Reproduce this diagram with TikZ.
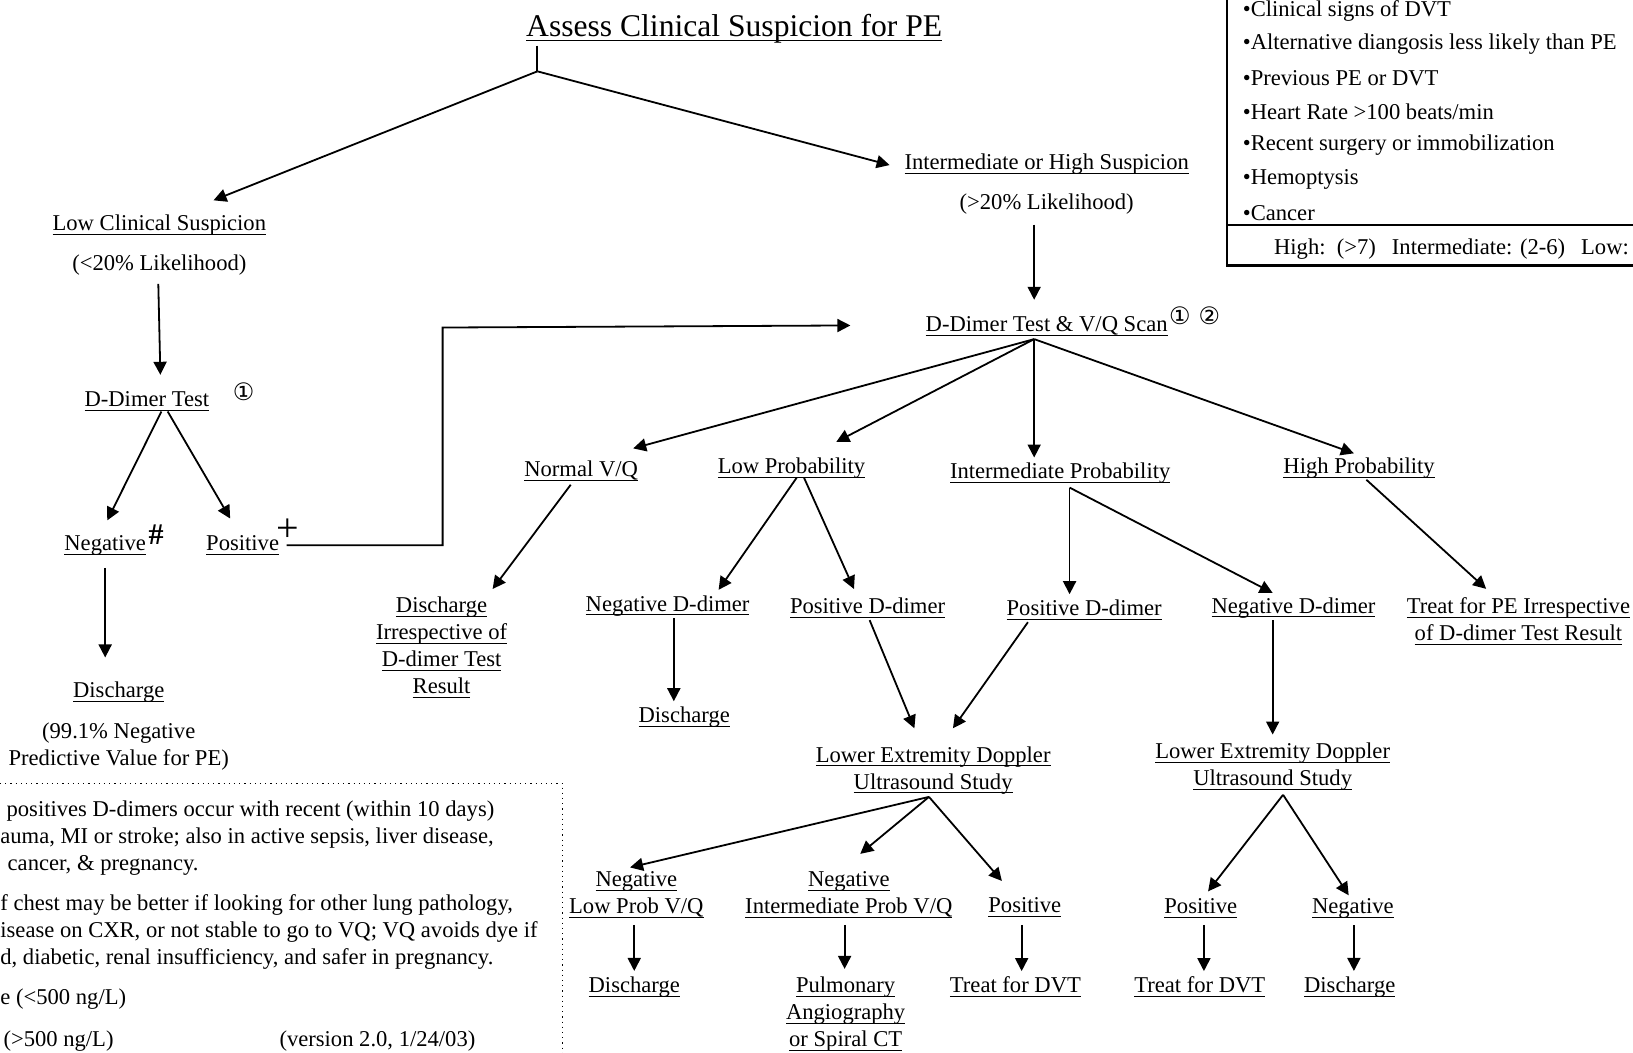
\documentclass[tikz,border=0pt]{standalone}
\usepackage{fontspec}
\setmainfont{Liberation Serif}
\newfontfamily\circfont{DejaVu Sans}
\usetikzlibrary{arrows.meta}

% underline at a fixed depth
\newcommand\ulin[1]{\setbox0\hbox{#1}\rlap{\rule[-2.2pt]{\wd0}{0.5pt}}\box0}

\begin{document}
\begin{tikzpicture}[x=0.52075pt, y=-0.52075pt,
        every node/.style={font=\fontsize{11.3}{13.54}\selectfont, inner sep=1pt, align=center, yshift=-1.3pt},
        flow/.style={line width=0.9pt, -{Triangle[length=6.5pt, width=6.5pt]}},
        plain/.style={line width=0.9pt},
        note/.style={anchor=west, inner sep=0pt}]
        \useasboundingbox (0,0) rectangle (1568,1011);
        \clip (0,0) rectangle (1568,1011);

        % title and first split
        \node (title) at (705,25) {\fontsize{15.8}{18}\selectfont\ulin{Assess Clinical Suspicion for PE}};
        \coordinate (split) at (516,66);

        % low suspicion branch
        \node (low) at (153,214) {\ulin{Low Clinical Suspicion}};
        \node (lowlik) at (153,252) {(<20\% Likelihood)};
        \node (ddt) at (141,383) {\ulin{D-Dimer Test}};
        \node (ddtmark) at (234,374) {\fontsize{12}{12}\selectfont\circfont ①};
        \node (neg) at (101,521) {\ulin{Negative}};
        \node (hash) at (150,511) {\fontsize{15}{15}\selectfont\bfseries\#};
        \node (pos) at (233,521) {\ulin{Positive}};
        \node (plus) at (276,507) {\fontsize{20}{20}\selectfont +};
        \node (dis1) at (114,662) {\ulin{Discharge}};
        \node (npv) at (114,714) {(99.1\% Negative\\Predictive Value for PE)};

        % intermediate / high suspicion branch
        \node (ihs) at (1005,155) {\ulin{Intermediate or High Suspicion}};
        \node (ihslik) at (1005,193) {(>20\% Likelihood)};
        \node (dvq) at (1005,311) {\ulin{D-Dimer Test \& V/Q Scan}};
        \node (dvqmark) at (1147,301) {\fontsize{12}{12}\selectfont\circfont ①\hspace{4pt}②};

        \node (nvq) at (558,450) {\ulin{Normal V/Q}};
        \node (lowp) at (760,447) {\ulin{Low Probability}};
        \node (intp) at (1018,452) {\ulin{Intermediate Probability}};
        \node (highp) at (1305,447) {\ulin{High Probability}};

        \node (disirr) at (424,619) {\ulin{Discharge}\\\ulin{Irrespective of}\\\ulin{D-dimer Test}\\\ulin{Result}};
        \node (nd1) at (641,579) {\ulin{Negative D-dimer}};
        \node (pd1) at (833,581) {\ulin{Positive D-dimer}};
        \node (pd2) at (1041,583) {\ulin{Positive D-dimer}};
        \node (nd2) at (1242,581) {\ulin{Negative D-dimer}};
        \node (treatpe) at (1458,594) {\ulin{Treat for PE Irrespective}\\\ulin{of D-dimer Test Result}};
        \node (dis2) at (657,686) {\ulin{Discharge}};

        \node (ledus1) at (896,737) {\ulin{Lower Extremity Doppler}\\\ulin{Ultrasound Study}};
        \node (ledus2) at (1222,734) {\ulin{Lower Extremity Doppler}\\\ulin{Ultrasound Study}};
        \node (nlp) at (611,857) {\ulin{Negative}\\\ulin{Low Prob V/Q}};
        \node (nip) at (815,857) {\ulin{Negative}\\\ulin{Intermediate Prob V/Q}};
        \node (posl) at (984,869) {\ulin{Positive}};
        \node (pos2) at (1153,870) {\ulin{Positive}};
        \node (neg2) at (1299,870) {\ulin{Negative}};
        \node (dis3) at (609,945) {\ulin{Discharge}};
        \node (pulm) at (812,971) {\ulin{Pulmonary}\\\ulin{Angiography}\\\ulin{or Spiral CT}};
        \node (tdvt1) at (975,945) {\ulin{Treat for DVT}};
        \node (tdvt2) at (1152,945) {\ulin{Treat for DVT}};
        \node (dis4) at (1296,945) {\ulin{Discharge}};

        % arrows, top part
        \draw[plain] (title.south west -| split) -- (split);
        \draw[flow] (split) -- ([shift={(52,-12)}]low.north);
        \draw[flow] (split) -- ([shift={(-12,1)}]ihs.west);
        \draw[flow] ([shift={(-1,6)}]lowlik.south) -- ([shift={(13,-14)}]ddt.north);
        \draw[flow] ([shift={(14,-2)}]ddt.south) -- ([shift={(2,-12)}]neg.north);
        \draw[flow] ([shift={(20,-2)}]ddt.south) -- ([shift={(-12,-14)}]pos.north);
        \draw[flow] ([shift={(0,10)}]neg.south) -- ([shift={(-13,-21)}]dis1.north);

        % positive D-dimer goes on to the V/Q scan
        \coordinate (jog) at (425,312);
        \draw[flow] ([shift={(5,0)}]pos.east) -| (jog) -- ([shift={(-70,-1)}]dvq.west);
        \draw[flow] ([shift={(-12,8)}]ihslik.south) -- ([shift={(-12,-14)}]dvq.north);

        % V/Q scan results
        \coordinate (dvqhub) at ([shift={(-12,-2)}]dvq.south);
        \draw[flow] (dvqhub) -- ([shift={(50,-10)}]nvq.north);
        \draw[flow] (dvqhub) -- ([shift={(43,-13)}]lowp.north);
        \draw[flow] (dvqhub) -- ([shift={(-25,-3)}]intp.north);
        \draw[flow] (dvqhub) -- ([shift={(-5,-2)}]highp.north);

        \draw[flow] ([shift={(-10,1)}]nvq.south) -- ([shift={(49,-5)}]disirr.north);
        \draw[flow] ([shift={(5,-3)}]lowp.south) -- ([shift={(49,-3)}]nd1.north);
        \draw[flow] ([shift={(12,-3)}]lowp.south) -- ([shift={(-13,-6)}]pd1.north);
        \draw[flow] ([shift={(6,0)}]nd1.south) -- ([shift={(-10,-3)}]dis2.north);
        \coordinate (inthub) at ([shift={(9,-1)}]intp.south);
        \draw[flow] (inthub) -- ([shift={(-14,-3)}]pd2.north);
        \draw[flow] (inthub) -- ([shift={(-20,-2)}]nd2.north);
        \draw[flow] ([shift={(7,-1)}]highp.south) -- ([shift={(-31,-6)}]treatpe.north);

        % doppler studies
        \draw[flow] ([shift={(2,0)}]pd1.south) -- ([shift={(-18,-15)}]ledus1.north);
        \draw[flow] ([shift={(-54,0)}]pd2.south) -- ([shift={(19,-15)}]ledus1.north);
        \coordinate (ledhub1) at ([shift={(-4,-2)}]ledus1.south);
        \draw[flow] (ledhub1) -- ([shift={(-6,-2)}]nlp.north);
        \draw[flow] (ledhub1) -- ([shift={(11,-15)}]nip.north);
        \draw[flow] (ledhub1) -- ([shift={(-22,-14)}]posl.north);
        \draw[flow] ([shift={(-2,4)}]nlp.south) -- ([shift={(0,-3)}]dis3.north);
        \draw[flow] ([shift={(-4,4)}]nip.south) -- ([shift={(-1,-5)}]pulm.north);
        \draw[flow] ([shift={(-3,5)}]posl.south) -- ([shift={(6,-3)}]tdvt1.north);

        \draw[flow] ([shift={(-20,0)}]nd2.south) -- ([shift={(0,-6)}]ledus2.north);
        \coordinate (ledhub2) at ([shift={(10,-1)}]ledus2.south);
        \draw[flow] (ledhub2) -- ([shift={(7,-5)}]pos2.north);
        \draw[flow] (ledhub2) -- ([shift={(-4,-1)}]neg2.north);
        \draw[flow] ([shift={(3,4)}]pos2.south) -- ([shift={(4,-3)}]tdvt2.north);
        \draw[flow] ([shift={(1,4)}]neg2.south) -- ([shift={(4,-3)}]dis4.north);

        % criteria box, top right
        \draw[line width=1.2pt] (1178,-10) rectangle (1700,255);
        \draw[line width=1pt] (1178,216) -- (1700,216);
        \foreach \crit [count=\i] in {Clinical signs of DVT, Alternative diangosis less likely than PE,
                Previous PE or DVT, Heart Rate >100 beats/min, Recent surgery or immobilization,
                Hemoptysis, Cancer}
            \node[note] (crit\i) at (1193, {8+32.3*(\i-1)}) {•\crit};
        \node[note] (score) at (1223,237) {High:\ \ (>7)\hspace{8pt}Intermediate: (2-6)\hspace{8pt}Low:};

        % footnote box, bottom left
        \draw[dotted, line width=0.6pt] (-10,752) -| (540,1020);
        \node[note] (fn1) at (6,776) {positives D-dimers occur with recent (within 10 days)};
        \node[note] (fn2) at (0,802) {auma, MI or stroke; also in active sepsis, liver disease,};
        \node[note] (fn3) at (7,828) {cancer, \& pregnancy.};
        \node[note] (fn4) at (0,866) {f chest may be better if looking for other lung pathology,};
        \node[note] (fn5) at (0,892) {isease on CXR, or not stable to go to VQ; VQ avoids dye if};
        \node[note] (fn6) at (0,918) {d, diabetic, renal insufficiency, and safer in pregnancy.};
        \node[note] (fn7) at (0,957) {e (<500 ng/L)};
        \node[note] (fn8) at (3,997) {(>500 ng/L)};
        \node[note] (fn9) at (268,997) {(version 2.0, 1/24/03)};
\end{tikzpicture}
\end{document}
